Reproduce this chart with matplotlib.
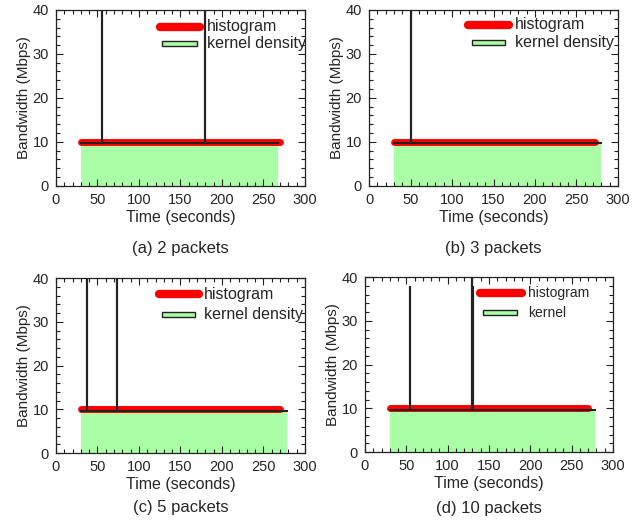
import matplotlib
matplotlib.use("Agg")
import matplotlib.pyplot as plt
from matplotlib.ticker import MultipleLocator

plt.rcParams["font.family"] = ["Liberation Sans", "DejaVu Sans"]

# ── data ────────────────────────────────────────────────────────────────────
captions = ["(a) 2 packets", "(b) 3 packets", "(c) 5 packets", "(d) 10 packets"]
kernel_labels = ["kernel density", "kernel density", "kernel density", "kernel"]

hist_start = [30, 30, 30, 30]
hist_end = [270, 272, 270, 270]
hist_level = [10.0, 10.0, 10.0, 10.0]

kern_start = [30, 30, 30, 30]
kern_end = [267, 279, 278, 278]
kern_level = [9.7, 9.7, 9.7, 9.7]

spike_x = [[55, 179], [50], [37, 73], [55, 129.5, 130.5]]
spike_h = [[60, 60], [60], [60, 60], [37.8, 60, 37.8]]

# ── layout (figure fractions) ──────────────────────────────────────────────
axes_rects = [
    [0.0875, 0.644, 0.389, 0.337],
    [0.5766, 0.644, 0.389, 0.337],
    [0.0875, 0.132, 0.389, 0.335],
    [0.5703, 0.134, 0.3875, 0.335],
]
caption_y = [-0.355, -0.355, -0.31, -0.32]
legend_pos = [  # x0, x1 of histogram sample, text x, y hist, green x0, x1, y green
    (0.418, 0.578, 0.606, 0.903, 0.426, 0.566, 0.810),
    (0.398, 0.562, 0.586, 0.915, 0.412, 0.546, 0.813),
    (0.414, 0.574, 0.594, 0.909, 0.424, 0.558, 0.794),
    (0.464, 0.632, 0.659, 0.910, 0.477, 0.614, 0.796),
]
legend_fs = [11.5, 11.5, 11.5, 10]

RED = "#ff0000"
GREEN = "#aaffa6"
DARK = "#222222"
TEXT = "#262626"


def kernel_curve(x0, x1, base, xs, hs):
    x, y = [x0], [base]
    for sx, sh in zip(xs, hs):
        x += [sx, sx, sx]
        y += [base, sh, base]
    x.append(x1)
    y.append(base)
    return x, y


fig = plt.figure(figsize=(6.4, 5.22), dpi=100)

for i in range(4):
    ax = fig.add_axes(axes_rects[i])

    kx, ky = kernel_curve(kern_start[i], kern_end[i], kern_level[i],
                          spike_x[i], spike_h[i])
    ax.fill_between([kern_start[i], kern_end[i]], 0, kern_level[i],
                    color=GREEN, lw=0, zorder=1)
    ax.plot([hist_start[i], hist_end[i]], [hist_level[i], hist_level[i]],
            color=RED, lw=5, solid_capstyle="round", zorder=2)
    ax.plot(kx, ky, color=DARK, lw=1.5, zorder=3)

    ax.set_xlim(0, 300)
    ax.set_ylim(0, 40)
    ax.xaxis.set_major_locator(MultipleLocator(50))
    ax.xaxis.set_minor_locator(MultipleLocator(10))
    ax.yaxis.set_major_locator(MultipleLocator(10))
    ax.yaxis.set_minor_locator(MultipleLocator(2))
    ax.tick_params(which="both", direction="in", top=True, right=True,
                   color=DARK, width=0.8, labelcolor=TEXT, labelsize=10.5)
    ax.tick_params(which="major", length=5, pad=5)
    ax.tick_params(which="minor", length=3)
    for sp in ax.spines.values():
        sp.set_color(DARK)
        sp.set_linewidth(0.9)

    ax.set_xlabel("Time (seconds)", fontsize=11.5, color=TEXT, labelpad=2)
    ax.set_ylabel("Bandwidth (Mbps)", fontsize=11, color=TEXT, labelpad=1)

    # legend, gnuplot style
    hx0, hx1, tx, hy, gx0, gx1, gy = legend_pos[i]
    ax.plot([hx0, hx1], [hy, hy], transform=ax.transAxes, color=RED, lw=6,
            solid_capstyle="round", clip_on=False, zorder=5)
    ax.add_patch(plt.Rectangle((gx0, gy - 0.014), gx1 - gx0, 0.028,
                               transform=ax.transAxes, facecolor=GREEN,
                               edgecolor=DARK, lw=1, clip_on=False, zorder=5))
    ax.text(tx, hy, "histogram", transform=ax.transAxes, fontsize=legend_fs[i],
            color=TEXT, va="center", ha="left", zorder=6)
    ax.text(tx, gy, kernel_labels[i], transform=ax.transAxes,
            fontsize=legend_fs[i], color=TEXT, va="center", ha="left", zorder=6)

    ax.text(0.5, caption_y[i], captions[i], transform=ax.transAxes, fontsize=12,
            color=TEXT, ha="center", va="center")

fig.savefig("out.png", dpi=100)
